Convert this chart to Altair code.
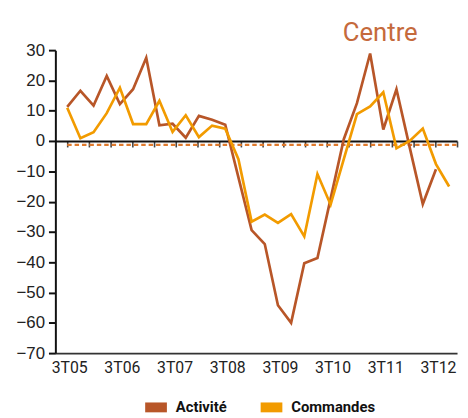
import altair as alt
import pandas as pd

# ---- data ----
series_names = ["Activité", "Commandes"]
series_colors = ["#B85628", "#F29B00"]

activite = [11.3, 16.6, 11.7, 21.5, 12.2, 17.1, 27.5, 5.2, 5.7, 1.1,
            8.3, 7.0, 5.4, -12.0, -29.4, -34.0, -54.2, -60.0, -40.3, -38.6,
            -19.0, 0.6, 12.5, 28.9, 3.8, 17.1, -2.0, -20.8, -9.3]
commandes = [11.0, 0.9, 2.9, 9.2, 17.6, 5.6, 5.6, 13.3, 3.0, 8.5,
             1.3, 5.1, 4.1, -6.0, -26.6, -24.3, -27.0, -24.1, -31.5, -10.9,
             -21.0, -6.0, 8.9, 11.4, 16.1, -2.4, 0.0, 4.1, -7.6, -15.0]

tick_labels = ["3T05", "3T06", "3T07", "3T08", "3T09", "3T10", "3T11", "3T12"]
label_positions = [0, 4, 8, 12, 16, 20, 24, 28]
y_ticks = [-70, -60, -50, -40, -30, -20, -10, 0, 10, 20, 30]
average_level = -1.3

# ---- styling ----
NARROW = "Liberation Sans Narrow, Arial Narrow, Roboto, sans-serif"
REGULAR = "Liberation Sans, Arial, sans-serif"
X_DOMAIN = [-0.9, 29.6]
W, H = 407, 307
zero_ticks = [round(X_DOMAIN[1] * i / 18, 3) for i in range(19)]

rows = []
for i, v in enumerate(activite):
    rows.append({"k": i, "value": v, "serie": series_names[0]})
for i, v in enumerate(commandes):
    rows.append({"k": i, "value": v, "serie": series_names[1]})
df = pd.DataFrame(rows)

avg_df = pd.DataFrame({"start": [0], "end": [X_DOMAIN[1]], "value": [average_level]})

xscale = alt.Scale(domain=X_DOMAIN, nice=False, zero=False)
yscale = alt.Scale(domain=[-70, 30], nice=False, zero=False)

label_expr = ("[" + ",".join("'%s'" % t for t in tick_labels) + "]"
              "[indexof([" + ",".join(str(p) for p in label_positions) + "], datum.value)]")

y_axis = alt.Axis(values=y_ticks, title=None, grid=False, tickSize=7, tickWidth=2,
                  tickColor="#111111", domainColor="#111111", domainWidth=2,
                  labelFont=REGULAR, labelFontSize=17, labelColor="#222222",
                  labelPadding=4)

lines = alt.Chart(df).mark_line(strokeWidth=2.7).encode(
    x=alt.X("k:Q", scale=xscale,
            axis=alt.Axis(orient="bottom", values=label_positions, labelExpr=label_expr,
                          title=None, ticks=False, grid=False, domainColor="#333333",
                          domainWidth=1.6, labelFont=NARROW, labelFontSize=16,
                          labelColor="#222222", labelPadding=7, labelOffset=2)),
    y=alt.Y("value:Q", scale=yscale, axis=y_axis),
    color=alt.Color("serie:N",
                    scale=alt.Scale(domain=series_names, range=series_colors),
                    legend=alt.Legend(orient="none", legendX=86, legendY=346,
                                      direction="horizontal", title=None,
                                      symbolType="stroke", symbolSize=484,
                                      symbolStrokeWidth=10, labelFont=NARROW,
                                      labelFontSize=15, labelFontWeight="bold",
                                      labelColor="#111111", columnPadding=14,
                                      labelOffset=4, padding=0)),
)

dashed = alt.Chart(avg_df).mark_rule(color="#E07A2C", strokeWidth=2.3,
                                     strokeDash=[4.5, 3]).encode(
    x=alt.X("start:Q", scale=xscale,
            axis=alt.Axis(orient="bottom", offset=-214.9, values=zero_ticks,
                          labels=False, title=None, tickSize=6, tickColor="#444444",
                          tickWidth=1.6, domainColor="#111111", domainWidth=2,
                          grid=False)),
    x2="end:Q",
    y=alt.Y("value:Q", scale=yscale, axis=y_axis),
)

chart = alt.layer(dashed, lines).resolve_axis(x="independent").properties(
    width=W, height=H,
    autosize=alt.AutoSizeParams(type="none"),
    padding={"left": 48, "top": 40, "right": 3, "bottom": 60},
    background="white",
    title=alt.TitleParams("Centre", anchor="end", fontSize=26, font=NARROW,
                          color="#C56A3C", fontWeight="normal", offset=9,
                          dx=-41, dy=14),
).configure_view(strokeWidth=0)

chart.save("out.html", embed_options={"renderer": "svg", "actions": False})
